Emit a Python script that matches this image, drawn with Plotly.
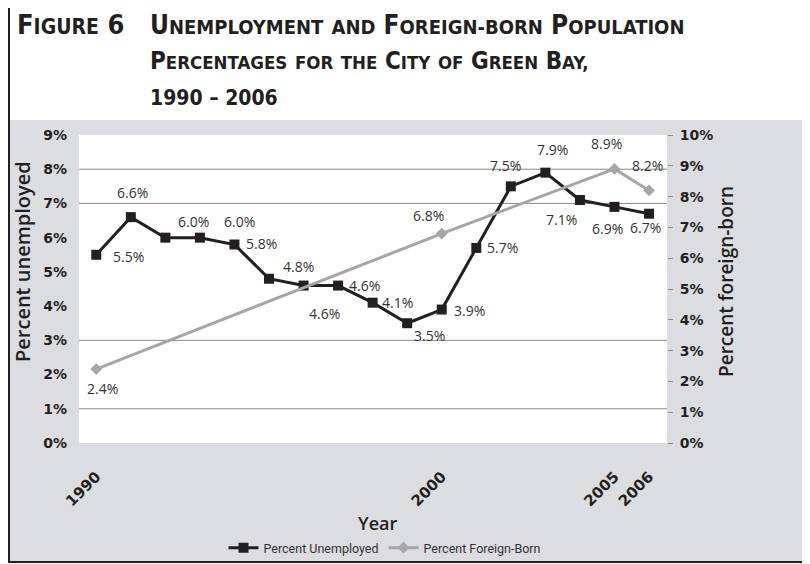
import plotly.graph_objects as go

# ---------------- data ----------------
years_unemp = [1990, 1991, 1992, 1993, 1994, 1995, 1996, 1997, 1998, 1999,
               2000, 2001, 2002, 2003, 2004, 2005, 2006]
pct_unemployed = [5.5, 6.6, 6.0, 6.0, 5.8, 4.8, 4.6, 4.6, 4.1, 3.5,
                  3.9, 5.7, 7.5, 7.9, 7.1, 6.9, 6.7]
years_foreign = [1990, 2000, 2005, 2006]
pct_foreign_born = [2.4, 6.8, 8.9, 8.2]
x_tick_years = [1990, 2000, 2005, 2006]
left_ticks = list(range(0, 10))
right_ticks = list(range(0, 11))
visible_gridlines = [1, 3, 7, 8]

# label offsets (pixels: dx right, dy down) -- style, not data
unemp_label_off = [(32, 2), (2, -25), (28, -16), (40, -16), (27, -1), (29, -12),
                   (21, 28), (26, 0), (25, 0), (22, 12), (28, 1), (26, 0),
                   (-5, -21), (7, -23), (-18, 19), (-7, 22), (-4, 14)]
foreign_label_off = [(6, 19), (-13, -18), (-8, -25), (-2, -25)]

# ---------------- geometry ----------------
# the page body adds an 8px offset; work in window pixels and convert
OFF = 8
WIN_W, WIN_H = 810, 564
W, H = WIN_W - OFF, WIN_H - OFF
PL, PR, PT, PB = 79, 667, 135, 443          # plot area in window pixels
ML, MT = PL - OFF, PT - OFF
MR, MB = W - (PR - OFF), H - (PB - OFF)
PW, PH = PR - PL, PB - PT


def pxx(p):
    return (p - PL) / PW


def pxy(p):
    return (PB - p) / PH


def cx(p):
    return (p - OFF) / W


def cy(p):
    return 1 - (p - OFF) / H


GRAY_BG = "rgb(220,221,225)"
INK = "#231f20"
TICKFONT = dict(family="DejaVu Sans", size=14, color=INK, weight="bold")
XTICKFONT = dict(family="DejaVu Sans", size=15, color=INK, weight="bold")
LABELFONT = dict(family="Open Sans", size=14, color="#333333")

fig = go.Figure()
fig.add_trace(go.Scatter(
    x=years_unemp, y=pct_unemployed, name="Percent Unemployed",
    mode="lines+markers", yaxis="y",
    line=dict(color=INK, width=3),
    marker=dict(symbol="square", size=10, color=INK),
))
fig.add_trace(go.Scatter(
    x=years_foreign, y=pct_foreign_born, name="Percent Foreign-Born",
    mode="lines+markers", yaxis="y2",
    line=dict(color="rgb(166,166,166)", width=3),
    marker=dict(symbol="diamond", size=9, color="rgb(166,166,166)"),
))

annotations = []
for xv, yv, (dx, dy) in zip(years_unemp, pct_unemployed, unemp_label_off):
    annotations.append(dict(x=xv, y=yv, xref="x", yref="y", text=f"{yv:.1f}%",
                            showarrow=False, xshift=dx, yshift=-dy, font=LABELFONT))
for xv, yv, (dx, dy) in zip(years_foreign, pct_foreign_born, foreign_label_off):
    annotations.append(dict(x=xv, y=yv, xref="x", yref="y2", text=f"{yv:.1f}%",
                            showarrow=False, xshift=dx, yshift=-dy, font=LABELFONT))

# title (small caps emulated)
TF = "Liberation Sans Narrow, DejaVu Sans Condensed, Roboto, sans-serif"
ALL_SMALL = {"AND", "FOR", "THE", "OF"}


def smallcaps(words, small):
    parts = []
    for w in words:
        if w in ALL_SMALL:
            parts.append(f'<span style="font-size:{small}px">{w}</span>')
        elif w[0].isalpha():
            parts.append(w[0] + f'<span style="font-size:{small}px">{w[1:]}</span>')
        else:
            parts.append(w)
    return " ".join(parts)


line1_main = (smallcaps(["UNEMPLOYMENT", "AND"], 20) + " "
              + 'F<span style="font-size:20px">OREIGN-BORN</span> '
              + smallcaps(["POPULATION"], 20))
title_lines = [
    (15, 25, 27, smallcaps(["FIGURE", "6"], 21)),
    (148, 25, 26, line1_main),
    (148, 61, 24, smallcaps(["PERCENTAGES", "FOR", "THE", "CITY", "OF", "GREEN", "BAY,"], 18.5)),
    (148, 98, 21, "1990 – 2006"),
]
for x0, yc, size, txt in title_lines:
    annotations.append(dict(x=pxx(x0), y=pxy(yc), xref="paper", yref="paper",
                            xanchor="left", yanchor="middle", text=txt, showarrow=False,
                            font=dict(family=TF, size=size, color=INK, weight="bold")))

# axis titles
annotations.append(dict(x=pxx(22), y=pxy(262), xref="paper", yref="paper", text="Percent unemployed",
                        textangle=-90, showarrow=False, xanchor="center", yanchor="middle",
                        font=dict(family="Open Sans", size=20, color=INK, weight=600)))
annotations.append(dict(x=pxx(726), y=pxy(282), xref="paper", yref="paper", text="Percent foreign-born",
                        textangle=-90, showarrow=False, xanchor="center", yanchor="middle",
                        font=dict(family="Open Sans", size=19, color=INK, weight=600)))
annotations.append(dict(x=pxx(377), y=pxy(523), xref="paper", yref="paper", text="Year",
                        showarrow=False, xanchor="center", yanchor="middle",
                        font=dict(family="Open Sans", size=18, color=INK, weight=600)))

shapes = [
    dict(type="rect", xref="paper", yref="paper", x0=pxx(9), x1=pxx(803), y0=pxy(562), y1=pxy(120),
         fillcolor=GRAY_BG, line=dict(width=0), layer="below"),
    dict(type="rect", xref="paper", yref="paper", x0=0, x1=1, y0=0, y1=1,
         fillcolor="white", line=dict(width=0), layer="below"),
]
for g in visible_gridlines:
    shapes.append(dict(type="line", xref="paper", yref="y", x0=0, x1=1, y0=g, y1=g,
                       line=dict(color="rgb(140,140,140)", width=1), layer="below"))
shapes.append(dict(type="rect", xref="paper", yref="paper", x0=pxx(9), x1=pxx(803), y0=pxy(562), y1=pxy(7),
                   fillcolor="rgba(0,0,0,0)", line=dict(color=INK, width=2), layer="above"))

fig.update_layout(
    width=W, height=H,
    margin=dict(l=ML, r=MR, t=MT, b=MB, pad=0, autoexpand=False),
    paper_bgcolor="white", plot_bgcolor="white",
    showlegend=True,
    legend=dict(orientation="h", xref="container", yref="container", x=cx(385), y=cy(548),
                xanchor="center", yanchor="middle",
                bgcolor="rgba(0,0,0,0)", font=dict(family="Roboto", size=12.5, color="#333333"),
                itemwidth=30, tracegroupgap=0),
    xaxis=dict(range=[1989.5, 2006.52], tickvals=x_tick_years, ticktext=[str(v) for v in x_tick_years],
               tickangle=-45, showgrid=False, zeroline=False, showline=False, ticks="",
               tickfont=XTICKFONT, ticklabelstandoff=21, automargin=False),
    yaxis=dict(range=[0, 9], tickvals=left_ticks, ticktext=[f"{v}%" for v in left_ticks],
               showgrid=False, zeroline=False, showline=False, ticks="",
               tickfont=TICKFONT, ticklabelstandoff=11, automargin=False),
    yaxis2=dict(range=[0, 10], tickvals=right_ticks, ticktext=[f"{v}%" for v in right_ticks],
                overlaying="y", side="right", showgrid=False, zeroline=False, showline=False,
                ticks="outside", ticklen=5, tickcolor="rgb(140,140,140)", tickwidth=1,
                tickfont=TICKFONT, ticklabelstandoff=4, automargin=False),
    annotations=annotations,
    shapes=shapes,
)

fig.write_html("out.html")
